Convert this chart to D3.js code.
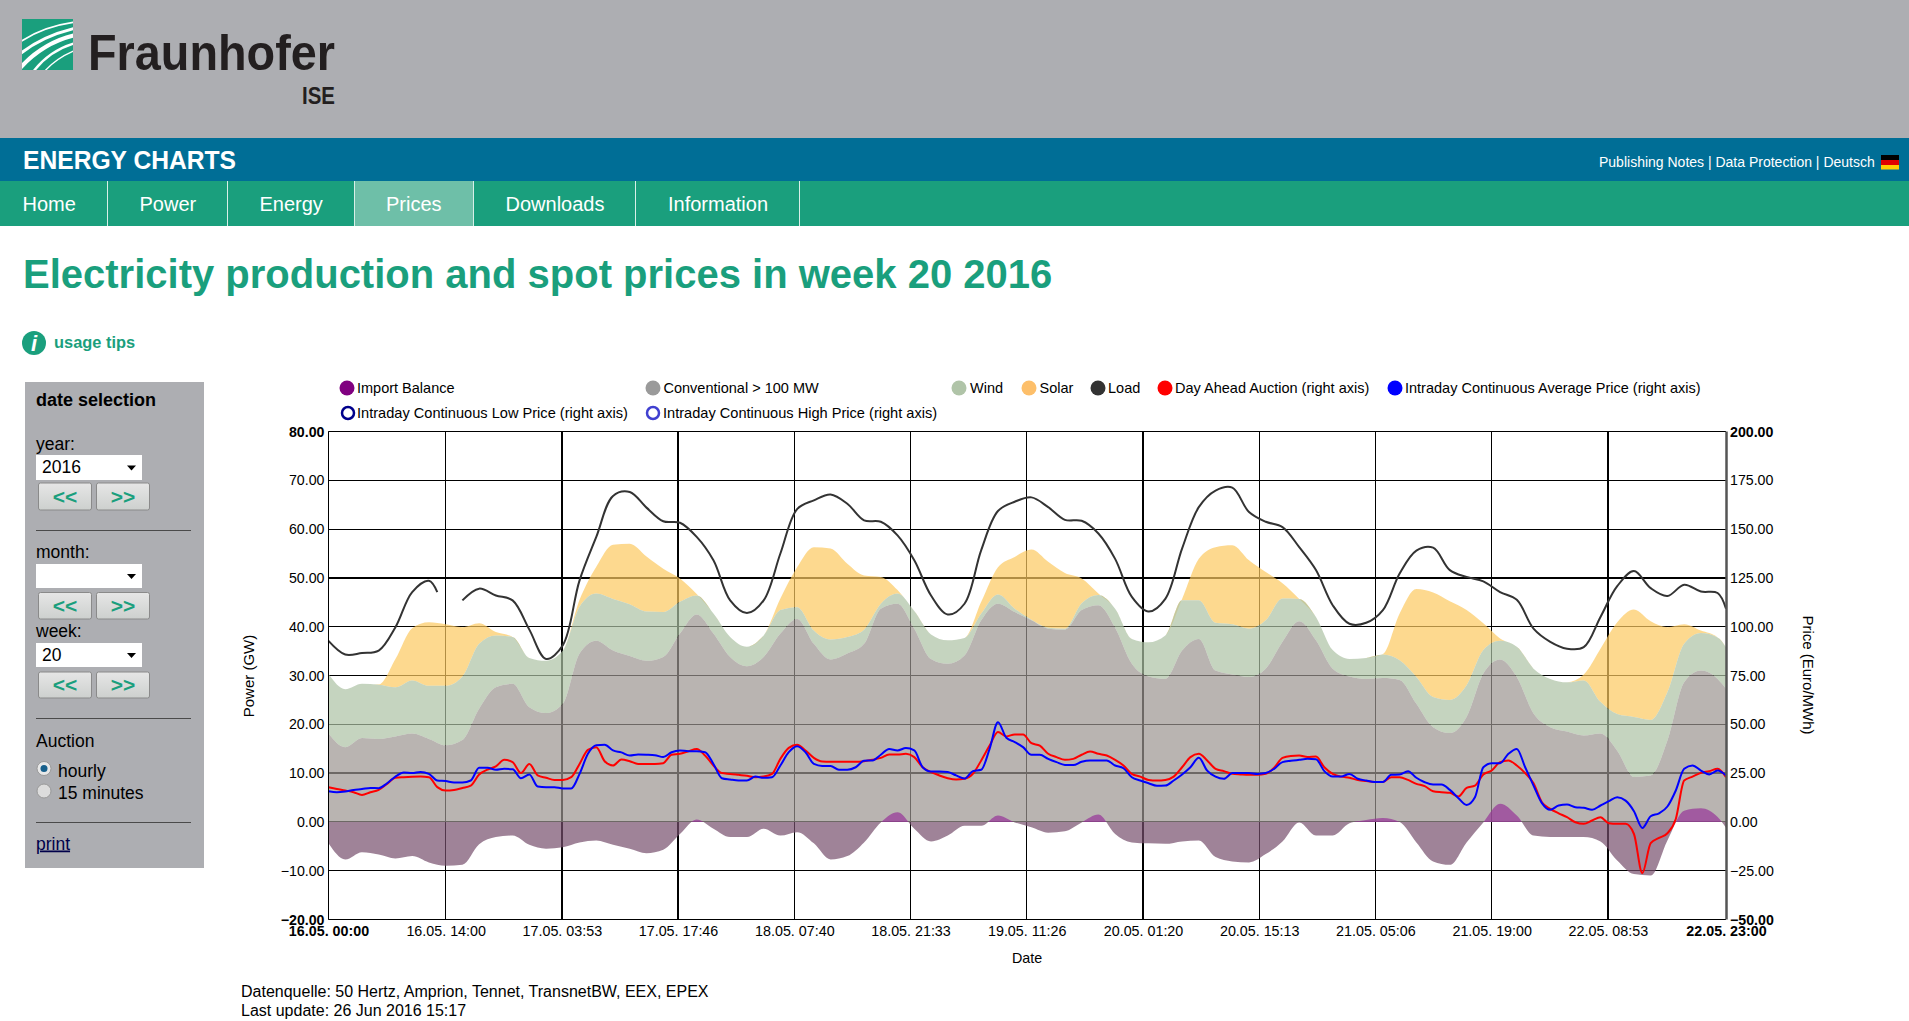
<!DOCTYPE html>
<html><head><meta charset="utf-8"><title>Energy Charts</title>
<script src="https://cdnjs.cloudflare.com/ajax/libs/d3/7.8.5/d3.min.js"></script>
<style>html,body{margin:0;padding:0;background:#fff;overflow:hidden}svg{display:block}text{font-family:"Liberation Sans",Arial,sans-serif}</style>
</head><body><div id="page"></div>
<script>
// ---- DATA -----------------------------------------------------------------
// 2-hourly samples (hours since 16.05. 00:00), last sample at hour 167
const areaHours = [0,2,4,6,8,10,12,14,16,18,20,22,24,26,28,30,32,34,36,38,40,42,44,46,48,
50,52,54,56,58,60,62,64,66,68,70,72,74,76,78,80,82,84,86,88,90,92,94,96,98,
100,102,104,106,108,110,112,114,116,118,120,122,124,126,128,130,132,134,136,138,140,142,144,
146,148,150,152,154,156,158,160,162,164,166,167];
const importBalance = [-4.4,-7.7,-6.2,-6.7,-7.5,-7.0,-8.3,-9.0,-8.8,-4.6,-3.1,-2.8,-4.7,-5.5,-5.2,-4.2,-3.8,-4.7,-5.5,-6.4,-5.7,-2.5,0.5,-1.4,-3.1,
-3.1,-1.4,-2.8,-2.1,-4.4,-7.7,-7.0,-4.2,-0.1,2.0,-1.4,-4.0,-2.8,-0.8,-0.8,1.3,-0.1,-1.1,-2.2,-1.9,-0.1,1.5,-2.5,-4.2,-4.4,
-4.5,-4.0,-3.8,-7.2,-8.1,-8.3,-6.6,-4.0,-0.1,-2.8,-2.8,-0.3,0.4,0.8,0,-4.2,-8.1,-8.8,-4.2,-0.1,3.7,1.3,-2.8,
-3.1,-3.1,-3.1,-4.0,-7.9,-10.7,-11.0,-3.8,2.3,2.8,1.0,-1.2];
const conventional = [18.1,15.3,17.2,17.0,17.5,18.1,17.0,15.7,16.8,23.2,27.6,28.3,23.5,22.3,24.2,34.5,37.1,35.1,34.0,33.0,33.8,38.6,42.5,38.6,33.8,
31.9,33.8,38.6,41.6,36.5,33.3,34.5,36.5,43.7,44.7,39.6,33.4,32.4,34.1,41.3,44.7,43.0,41.3,39.6,39.4,43.4,44.4,39.8,32.4,29.8,
29.3,35.1,37.5,31.0,30.2,29.7,31.4,36.9,41.1,37.2,31.4,29.8,29.3,29.5,29.1,24.2,19.4,18.2,21.5,30.4,33.3,29.7,22.2,
19.4,18.5,17.7,18.1,14.6,9.2,9.5,16.7,28.6,31.0,29.3,27.3];
const wind = [12.2,11.9,11.1,11.1,10.1,10.9,10.9,12.2,13.0,13.3,10.6,9.6,10.1,10.7,10.9,9.6,9.7,10.6,10.6,10.1,9.2,6.5,3.9,4.1,4.1,
4.0,4.4,4.8,2.4,2.7,4.1,3.4,2.9,1.0,2.1,3.6,5.0,4.8,3.6,1.4,1.9,0.7,0.1,0.2,0.2,1.4,2.1,3.9,5.1,7.0,
8.9,10.3,7.9,9.8,10.3,9.9,9.9,8.9,4.6,4.8,3.8,3.6,4.3,4.8,4.0,5.5,6.2,6.8,6.5,4.8,3.8,6.2,9.2,
9.9,10.1,11.3,6.5,7.5,12.3,11.4,9.9,7.9,7.7,8.5,8.5];
const solar = [0,0,0,0.1,5.8,10.7,13.0,12.6,10.1,4.2,0.7,0,0,0,0,1.4,5.5,11.1,12.4,11.3,8.9,4.8,0.3,0,0,
0,0,2.4,8.2,17.1,18.6,15.0,11.1,5.5,0.7,0,0,0,0,2.4,5.6,10.6,14.4,13.5,11.4,5.1,0.3,0,0,0,
0,0.3,8.5,15.5,16.2,14.0,9.9,3.1,0,0,0,0,0,0.1,9.6,18.0,21.4,20.2,15.4,5.5,0.5,0,0,
0,0,1.2,10.9,18.8,22.0,20.2,13.3,4.0,0.5,0,0];
// load has its own time list because of the gap after hour 13
const loadHours = [0,2,4,6,8,10,12,13,14,16,18,20,22,24,26,28,30,32,34,36,38,40,42,44,46,48,
50,52,54,56,58,60,62,64,66,68,70,72,74,76,78,80,82,84,86,88,90,92,94,96,98,
100,102,104,106,108,110,112,114,116,118,120,122,124,126,128,130,132,134,136,138,140,142,144,
146,148,150,152,154,156,158,160,162,164,166,167];
const load = [37.1,34.3,34.6,35.1,39.9,47.1,49.4,47.1,null,45.4,47.8,46.4,45.4,39.4,33.4,36.2,49.5,58.4,66.8,67.6,64.4,61.6,61.3,58.4,53.6,45.4,
42.8,45.4,55.0,64.1,65.9,67.1,65.2,61.8,61.5,58.7,53.6,46.4,42.5,44.7,55.7,63.7,65.6,66.5,64.5,61.9,61.7,59.1,53.9,46.1,43.1,
45.7,56.0,64.5,67.9,68.5,63.5,61.5,60.4,56.3,51.6,44.4,40.6,40.8,43.4,50.9,55.6,56.2,51.6,50.2,49.3,47.1,45.5,39.6,
36.9,35.5,35.8,42.0,48.3,51.4,47.9,46.3,48.6,47.2,46.9,43.7];
// hourly prices, Euro/MWh, hours 0..167
const dayAhead = [17.8,16.9,16.1,15.2,13.8,15.2,16.4,19.5,22.6,22.9,23.1,23.2,22.9,17.8,16.1,16.4,17.4,18.6,24.3,26.8,28.4,31.8,30.6,25.0,
29.7,23.8,22.6,21.5,21.5,22.9,29.7,36.9,38.3,31.1,28.9,32.0,31.1,29.7,29.7,29.7,30.1,34.4,34.9,36.2,37.4,34.0,28.9,25.0,
24.6,24.1,23.6,22.9,23.2,24.6,32.3,37.9,39.5,36.6,32.8,30.9,30.8,30.8,30.8,30.8,31.1,31.8,32.8,34.5,34.5,34.9,33.2,28.0,
25.5,23.8,22.4,21.7,22.1,24.6,31.5,39.1,46.0,43.8,44.8,44.8,40.3,39.1,34.9,33.2,31.8,32.3,34.4,36.1,34.9,34.0,31.8,28.9,
24.6,23.2,21.5,21.2,21.5,23.2,28.0,33.2,34.9,31.5,27.2,26.0,24.6,24.3,24.1,24.1,24.6,27.7,32.8,33.8,34.0,33.2,33.5,28.0,
24.6,23.2,22.6,21.5,20.9,20.5,20.5,22.9,22.9,21.5,19.5,18.3,15.7,15.2,14.9,13.0,17.4,18.6,24.3,26.3,30.6,31.5,28.9,25.0,
19.8,10.1,6.7,4.4,2.4,-0.2,-1.0,0.7,2.4,-0.7,-1.0,-1.0,-6.2,-26.2,-10.9,-8.2,-5.8,1.5,21.2,23.2,25.1,26.0,27.2,22.9];
const intradayAvg = [15.7,15.2,15.6,16.4,16.8,17.4,17.3,19.8,23.2,25.3,25.0,25.6,24.6,21.2,20.9,20.2,20.2,21.2,27.7,27.7,26.7,27.2,27.0,22.4,
24.3,18.1,17.8,17.8,17.1,17.1,24.6,34.9,39.3,39.5,36.6,35.6,34.0,34.5,34.4,34.2,33.2,35.7,36.6,36.2,36.2,35.7,29.7,22.4,
21.7,21.2,21.2,23.2,22.6,22.9,28.9,35.7,38.8,35.7,29.7,28.7,28.7,26.7,26.7,28.0,31.3,31.5,34.4,37.4,36.6,37.8,36.6,28.0,
25.8,25.8,25.6,23.8,22.2,26.0,26.7,37.4,51.1,43.1,40.9,38.3,34.4,34.4,32.3,30.6,29.2,29.1,30.8,31.5,31.5,31.5,28.9,27.5,
22.9,21.2,19.8,18.5,18.6,21.2,24.3,28.0,32.8,26.3,23.2,22.1,25.0,25.1,25.1,24.6,25.0,27.2,30.6,31.3,31.8,32.3,32.1,26.0,
23.2,23.2,24.6,22.1,21.2,20.5,20.5,24.1,24.3,26.0,22.6,20.3,19.1,19.1,16.4,12.3,8.7,12.6,28.0,30.1,30.1,34.9,37.4,28.0,
18.6,9.6,6.2,8.4,8.9,7.5,7.2,6.2,8.4,10.6,12.6,10.9,5.5,-3.1,2.9,4.4,7.9,16.1,27.2,28.9,26.3,24.3,26.3,23.8];
const priceHours = d3.range(0, 168);

const powerTicks = [80,70,60,50,40,30,20,10,0,-10,-20];
const priceTicks = [200,175,150,125,100,75,50,25,0,-25,-50];
const dateTicks = ["16.05. 00:00","16.05. 14:00","17.05. 03:53","17.05. 17:46","18.05. 07:40","18.05. 21:33","19.05. 11:26","20.05. 01:20","20.05. 15:13","21.05. 05:06","21.05. 19:00","22.05. 08:53","22.05. 23:00"];
const navItems = ["Home","Power","Energy","Prices","Downloads","Information"];
const legendRow1 = ["Import Balance","Conventional > 100 MW","Wind","Solar","Load","Day Ahead Auction (right axis)","Intraday Continuous Average Price (right axis)"];
const legendRow2 = ["Intraday Continuous Low Price (right axis)","Intraday Continuous High Price (right axis)"];

// ---- LAYOUT ---------------------------------------------------------------
const W=1909,H=1021, GRAY="#adaeb2", GREEN="#1a9f7d", BLUE="#006e96";
const svg=d3.select("#page").append("svg").attr("width",W).attr("height",H);
const rect=(x,y,w,h,f)=>svg.append("rect").attr("x",x).attr("y",y).attr("width",w).attr("height",h).attr("fill",f);
const txt=(s,x,y,size,o={})=>svg.append("text").text(s).attr("x",x).attr("y",y).attr("font-size",size)
  .attr("fill",o.fill||"#000").attr("font-weight",o.bold?"bold":null).attr("text-anchor",o.anchor||"start")
  .attr("font-family",o.family||null).attr("text-decoration",o.deco||null);

// header
rect(0,0,W,138,GRAY); rect(0,138,W,43,BLUE); rect(0,181,W,45,GREEN);
const defs=svg.append("defs");
defs.append("clipPath").attr("id","logoClip").append("rect").attr("x",22).attr("y",19).attr("width",51).attr("height",51);
rect(22,19,51,51,GREEN);
const swoosh=svg.append("g").attr("clip-path","url(#logoClip)").attr("fill","none").attr("stroke","#fff");
[["M20,42 Q44,26 76,22",1.6],["M20,54 Q42,36 76,28",3],["M20,68 Q44,42 76,35",4.2],["M33,72 Q50,50 76,43",2.4],["M44,72 Q56,58 76,50",1.4]]
  .forEach(s=>swoosh.append("path").attr("d",s[0]).attr("stroke-width",s[1]));
txt("Fraunhofer",88,70,50,{fill:"#231f20",family:"'Open Sans'"}).attr("textLength",247).attr("lengthAdjust","spacingAndGlyphs").attr("font-weight",600);
txt("ISE",302,104,23,{fill:"#231f20",family:"'Open Sans'"}).attr("textLength",33).attr("lengthAdjust","spacingAndGlyphs").attr("font-weight",600);
txt("ENERGY CHARTS",23,169,26,{fill:"#fff",family:"'Open Sans'"}).attr("textLength",213).attr("lengthAdjust","spacingAndGlyphs").attr("font-weight",600);
txt("Publishing Notes | Data Protection | Deutsch",1599,167,14,{fill:"#fff"});
rect(1881,155,18,5,"#000"); rect(1881,160,18,5,"#e00000"); rect(1881,165,18,4.5,"#ffcc00");

// nav
rect(355,181,118,45,"#6ebfa8");
[107,227,354,473,635,799].forEach(x=>rect(x,181,1,45,"#d8efe8"));
const navX=[22.5,139.5,259.5,386,505.5,668];
navItems.forEach((n,i)=>txt(n,navX[i],211,20,{fill:"#fff"}));

// title & tips
txt("Electricity production and spot prices in week 20 2016",23,288,40,{bold:true,fill:GREEN});
svg.append("circle").attr("cx",34).attr("cy",343).attr("r",12).attr("fill",GREEN);
svg.append("text").text("i").attr("x",34).attr("y",351).attr("font-size",22).attr("font-weight","bold").attr("font-style","italic").attr("fill","#fff").attr("text-anchor","middle").attr("font-family","'Liberation Serif'");
txt("usage tips",54,348,16.4,{bold:true,fill:GREEN});

// sidebar
rect(25,382,179,486,GRAY);
txt("date selection",36,405.5,18,{bold:true});
const sel=(y,h,label)=>{rect(36,y,106,h,"#fff");
  svg.append("path").attr("d",`M127,${y+h/2-2}h9l-4.5,5z`).attr("fill","#000");
  if(label)txt(label,42,y+h/2+5.5,17.5);};
const btnGrad=defs.append("linearGradient").attr("id","btn").attr("x1",0).attr("x2",0).attr("y1",0).attr("y2",1);
btnGrad.append("stop").attr("offset",0).attr("stop-color","#e6e6e6");
btnGrad.append("stop").attr("offset",1).attr("stop-color","#cdd0ce");
const btns=(y,h)=>[[38.5,"<<"],[96.5,">>"]].forEach(b=>{
  rect(b[0],y,53,h,"url(#btn)").attr("stroke","#8a8a8a").attr("rx",2);
  txt(b[1],b[0]+26.5,y+h/2+7,21,{bold:true,fill:GREEN,anchor:"middle"});});
txt("year:",36,450,17.5); sel(455,25,"2016"); btns(483,27);
rect(36,530,155,1,"#4a4a4a");
txt("month:",36,558,17.5); sel(564,24,""); btns(592.5,26.5);
txt("week:",36,637,17.5); sel(643,24,"20"); btns(672,26);
rect(36,718,155,1,"#4a4a4a");
txt("Auction",36,746.5,17.5);
svg.append("circle").attr("cx",44).attr("cy",768.5).attr("r",7).attr("fill","#e8e8e8").attr("stroke","#999");
svg.append("circle").attr("cx",44).attr("cy",768.5).attr("r",3.5).attr("fill","#17608c");
svg.append("circle").attr("cx",44).attr("cy",791).attr("r",7).attr("fill","#dcdcdc").attr("stroke","#999");
txt("hourly",58,776.5,17.5); txt("15 minutes",58,798.5,17.5);
rect(36,822,155,1,"#4a4a4a");
txt("print",36,849.5,17.5,{deco:"underline",fill:"#00004a"});

// legend
const legendCol="#000";
const lg1=[[347,357,"#800080"],[653,663.5,"#9a9a9a"],[959,970,"#b0c4a8"],[1029,1039.5,"#fdbf6a"],[1098,1108,"#333"],[1165,1175,"#ff0000"],[1395,1405,"#0000ff"]];
legendRow1.forEach((s,i)=>{svg.append("circle").attr("cx",lg1[i][0]).attr("cy",388).attr("r",7.5).attr("fill",lg1[i][2]);
  txt(s,lg1[i][1],393,14.5,{fill:legendCol});});
const lg2=[[348,357,"#00008b"],[653,663,"#4040d0"]];
legendRow2.forEach((s,i)=>{svg.append("circle").attr("cx",lg2[i][0]).attr("cy",413).attr("r",6).attr("fill","#fff").attr("stroke",lg2[i][2]).attr("stroke-width",2.5);
  txt(s,lg2[i][1],418,14.6,{fill:legendCol});});

// ---- CHART ----------------------------------------------------------------
const L=328.5,R=1726,T=431.5,B=919.5;
const parseD=d3.timeParse("%d.%m. %H:%M");
const dateHours=dateTicks.map(l=>(parseD(l)-parseD(dateTicks[0]))/36e5);
const x=d3.scaleLinear().domain([0,167]).range([L,R]);
const yP=d3.scaleLinear().domain([-20,80]).range([B,T]);
const yE=d3.scaleLinear().domain([-50,200]).range([B,T]);

// grid (drawn first, areas are translucent over it)
const grid=svg.append("g").attr("stroke","#000");
const thickY=[50,10], thickX=[2,3,7,11];
powerTicks.forEach(v=>{const t=thickY.includes(v);const p=yP(v);
  grid.append("line").attr("x1",L).attr("x2",R).attr("y1",t?Math.round(p):Math.floor(p)+.5).attr("y2",t?Math.round(p):Math.floor(p)+.5).attr("stroke-width",t?2:1);});
dateHours.forEach((h,i)=>{if(i==0||i==dateHours.length-1)return;const t=thickX.includes(i);const p=x(h);
  grid.append("line").attr("y1",T).attr("y2",B).attr("x1",t?Math.round(p):Math.floor(p)+.5).attr("x2",t?Math.round(p):Math.floor(p)+.5).attr("stroke-width",t?2:1);});

// stacked areas
const stackRows=areaHours.map((h,i)=>({h,conventional:conventional[i],wind:wind[i],solar:solar[i]}));
const stacked=d3.stack().keys(["conventional","wind","solar"])(stackRows);
const areaGen=d3.area().x(d=>x(d.data.h)).y0(d=>yP(d[0])).y1(d=>yP(d[1])).curve(d3.curveMonotoneX);
const areaCols={conventional:"#9b9490",wind:"#acc2a4",solar:"#fcc95f"};
const areas=svg.append("g").attr("fill-opacity",.7);
stacked.slice().reverse().forEach(s=>areas.append("path").attr("d",areaGen(s)).attr("fill",areaCols[s.key]));
defs.append("clipPath").attr("id","above").append("rect").attr("x",L).attr("width",R-L).attr("y",T).attr("height",yP(0)-T);
defs.append("clipPath").attr("id","below").append("rect").attr("x",L).attr("width",R-L).attr("y",yP(0)).attr("height",B-yP(0));
const importArea=d3.area().x((d,i)=>x(areaHours[i])).y0(yP(0)).y1(d=>yP(d)).curve(d3.curveMonotoneX);
areas.append("path").attr("d",importArea(importBalance)).attr("fill","#973399").attr("clip-path","url(#above)");
areas.append("path").attr("d",importArea(importBalance)).attr("fill","#764e6c").attr("clip-path","url(#below)");

// lines
const lineOn=(hours,scale,curve)=>d3.line().defined(d=>d!==null).x((d,i)=>x(hours[i])).y(d=>scale(d)).curve(curve);
const lines=svg.append("g").attr("fill","none").attr("stroke-width",2).attr("stroke-linejoin","round");
lines.append("path").attr("d",lineOn(loadHours,yP,d3.curveCatmullRom)(load)).attr("stroke","#333");
lines.append("path").attr("d",lineOn(priceHours,yE,d3.curveMonotoneX)(dayAhead)).attr("stroke","#ff0000");
lines.append("path").attr("d",lineOn(priceHours,yE,d3.curveMonotoneX)(intradayAvg)).attr("stroke","#0000ff");

// axes
const fmt=d3.format(".2f");
const styleAxis=(g,ends,size)=>{g.select(".domain").remove();g.selectAll("line").remove();
  g.selectAll("text").attr("font-size",size).attr("fill","#000").attr("font-family","'Liberation Sans'").attr("font-weight",ends);};
const isEnd=(arr)=>(d,i)=>(i==0||i==arr.length-1)?"bold":null;
const axL=svg.append("g").attr("transform",`translate(${L},0)`).call(d3.axisLeft(yP).tickValues(powerTicks).tickFormat(fmt).tickSize(0).tickPadding(4));
styleAxis(axL,isEnd(powerTicks),14.2);
const axR=svg.append("g").attr("transform",`translate(${R},0)`).call(d3.axisRight(yE).tickValues(priceTicks).tickFormat(fmt).tickSize(0).tickPadding(4));
styleAxis(axR,isEnd(priceTicks),14.2);
const axB=svg.append("g").attr("transform",`translate(0,${B})`).call(d3.axisBottom(x).tickValues(dateHours).tickFormat((d,i)=>dateTicks[i]).tickSize(0).tickPadding(6));
styleAxis(axB,isEnd(dateTicks),14.3);
svg.append("line").attr("x1",L).attr("x2",L).attr("y1",T).attr("y2",B).attr("stroke","#000");
svg.append("line").attr("x1",L).attr("x2",R).attr("y1",B).attr("y2",B).attr("stroke","#000");
svg.append("line").attr("x1",L).attr("x2",R).attr("y1",T).attr("y2",T).attr("stroke","#000");
svg.append("line").attr("x1",R+.5).attr("x2",R+.5).attr("y1",T).attr("y2",B).attr("stroke","#555").attr("stroke-width",2.5);

svg.append("text").text("Power (GW)").attr("transform","translate(254,676) rotate(-90)").attr("text-anchor","middle").attr("font-size",15);
svg.append("text").text("Price (Euro/MWh)").attr("transform","translate(1803,675) rotate(90)").attr("text-anchor","middle").attr("font-size",15);
txt("Date",1027,963,14.3,{anchor:"middle"});
txt("Datenquelle: 50 Hertz, Amprion, Tennet, TransnetBW, EEX, EPEX",241,997,16);
txt("Last update: 26 Jun 2016 15:17",241,1016,16);
</script></body></html>
